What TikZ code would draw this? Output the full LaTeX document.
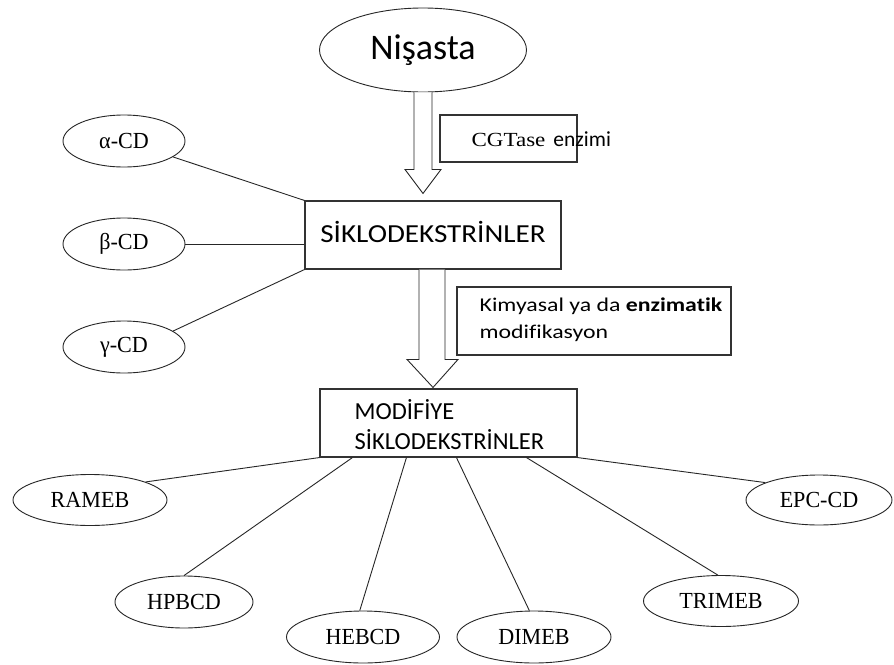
\documentclass[tikz,border=0pt]{standalone}
\usepackage{fontspec}
\setmainfont{Liberation Serif}
\newfontfamily\calfont{Carlito}[Ligatures=NoCommon]
\newfontfamily\calsik{Carlito}[FakeStretch=1.12, Ligatures=NoCommon]
\newfontfamily\calkim{Carlito}[FakeStretch=1.22, Ligatures=NoCommon]
\newfontfamily\serifnarrow{Liberation Serif}[FakeStretch=0.96]
\newfontfamily\serifwide{Liberation Serif}[FakeStretch=1.15]
\usetikzlibrary{shapes.geometric,calc}
\tikzset{
  ell/.style={draw=black!85, line width=0.9pt, ellipse, inner sep=0pt, font=\serifnarrow\fontsize{23}{26}\selectfont},
  boxnode/.style={draw=black!80, line width=1.1pt, rectangle, inner sep=0pt},
  link/.style={draw=black!85, line width=0.9pt},
  blockarrow/.style={draw=black!85, line width=0.9pt, fill=white},
  sanslabel/.style={inner sep=0pt}
}
\begin{document}
\begin{tikzpicture}[x=1pt,y=-1pt]
\useasboundingbox[fill=white] (0,0) rectangle (894,664);

% top
\node[ell, minimum width=207, minimum height=84, font=\calfont\fontsize{36}{40}\selectfont] (nis) at (423,50) {Nişasta};
\node[boxnode, minimum width=256, minimum height=68] (sik) at (433,235) {};
\node[sanslabel, font=\calsik\fontsize{26}{30}\selectfont] (siktext) at (433,232) {SİKLODEKSTRİNLER};

\node[boxnode, minimum width=137, minimum height=47] (cgbox) at (508.5,138.5) {};
\node[anchor=west, inner sep=0pt] (cgtext) at ($(cgbox.west)+(32,1)$) {\serifwide\fontsize{20}{22}\selectfont CGTase\hspace{8pt}{\calfont\fontsize{21.5}{22}\selectfont enzimi}};

\node[boxnode, minimum width=274, minimum height=68] (kimbox) at (594,321) {};
\node[sanslabel, anchor=west, align=left, font=\calkim\fontsize{19.5}{27}\selectfont] (kimtext) at ($(kimbox.west)+(23,-1)$) {Kimyasal ya da \textbf{enzimatik}\\modifikasyon};

\node[boxnode, minimum width=257, minimum height=68] (mod) at (448.5,423) {};
\node[sanslabel, anchor=west, align=left, font=\calfont\fontsize{24.5}{30}\selectfont] (modtext) at ($(mod.west)+(35,2)$) {MODİFİYE\\SİKLODEKSTRİNLER};

% block arrows
\coordinate (t1) at (sik.north -| nis.south);
\draw[blockarrow] ($(nis.south)+(-9,0)$) -- ($(t1)+(-9,-31)$) -- ($(t1)+(-18,-31)$) -- ($(t1)+(0,-7)$)
  -- ($(t1)+(18,-31)$) -- ($(t1)+(9,-31)$) -- ($(nis.south)+(9,0)$);
\coordinate (t2) at (mod.north -| sik.south);
\draw[blockarrow] ($(sik.south)+(-14,0)$) -- ($(t2)+(-14,-29)$) -- ($(t2)+(-26,-29)$) -- ($(t2)+(0,-1)$)
  -- ($(t2)+(25,-29)$) -- ($(t2)+(12,-29)$) -- ($(sik.south)+(12,0)$);

% left ellipses
\node[ell, minimum width=122, minimum height=52] (acd) at (124,141) {α-CD};
\node[ell, minimum width=122, minimum height=52] (bcd) at (124,244) {β-CD};
\node[ell, minimum width=122, minimum height=52] (gcd) at (124,347) {γ-CD};
\draw[link] (acd.-18) -- (sik.north west);
\draw[link] (bcd.east) -- (bcd.east -| sik.west);
\draw[link] (gcd.18) -- (sik.south west);

% bottom ellipses
\node[ell, minimum width=154, minimum height=51] (rameb) at (90,500) {RAMEB};
\node[ell, minimum width=138, minimum height=52] (hpbcd) at (184,602) {HPBCD};
\node[ell, minimum width=153, minimum height=52] (hebcd) at (363,637) {HEBCD};
\node[ell, minimum width=154, minimum height=52] (dimeb) at (534,637) {DIMEB};
\node[ell, minimum width=155, minimum height=51] (trimeb) at (721,601) {TRIMEB};
\node[ell, minimum width=146, minimum height=50] (epccd) at (819,500) {EPC-CD};

\draw[link] (mod.south west) -- (rameb.18);
\draw[link] ($(mod.south west)+(33,0)$) -- (hpbcd.north);
\draw[link] ($(mod.south west)+(87,0)$) -- (hebcd.97);
\draw[link] ($(mod.south west)+(137,0)$) -- (dimeb.100);
\draw[link] ($(mod.south west)+(207,0)$) -- (trimeb.97);
\draw[link] (mod.south east) -- (epccd.162);
\end{tikzpicture}
\end{document}
